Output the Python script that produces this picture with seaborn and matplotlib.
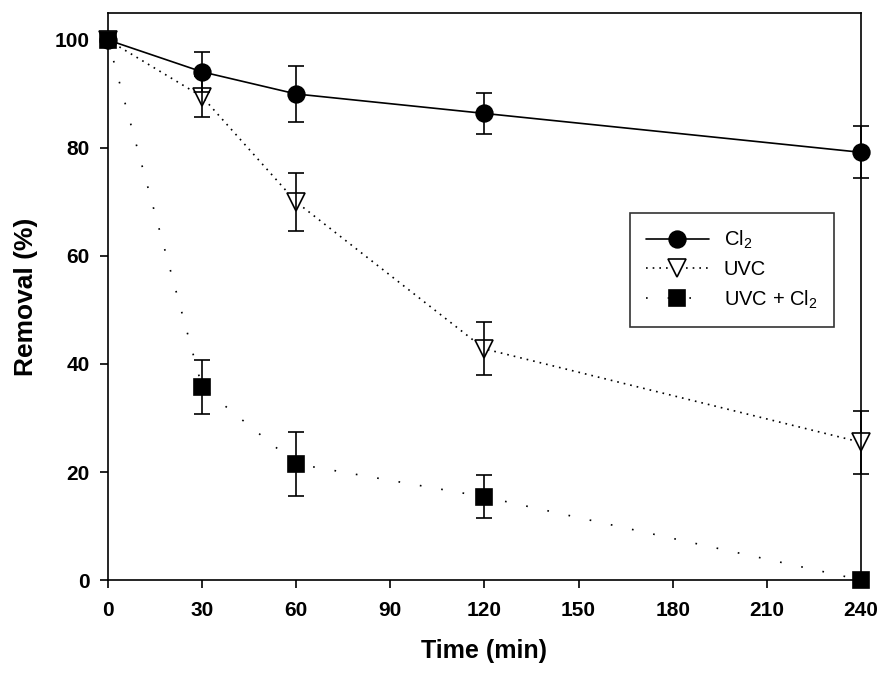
import numpy as np
import pandas as pd
import matplotlib
matplotlib.use("Agg")
import matplotlib.pyplot as plt
import seaborn as sns

# datos
tiempo = [0, 30, 60, 120, 240]
cl2 = [100, 94.1, 90.0, 86.4, 79.2]
cl2_err = [0, 3.7, 5.2, 3.8, 4.8]
uvc = [100, 89.5, 70.0, 42.8, 25.5]
uvc_err = [0, 3.8, 5.4, 4.9, 5.8]
uvc_cl2 = [100, 35.7, 21.5, 15.4, 0]
uvc_cl2_err = [0, 5.0, 6.0, 4.0, 0]

xticks = [0, 30, 60, 90, 120, 150, 180, 210, 240]
yticks = [0, 20, 40, 60, 80, 100]

sns.set_theme(style="ticks")
plt.rcParams['font.family'] = ['Liberation Sans', 'DejaVu Sans']
plt.rcParams['mathtext.fontset'] = 'custom'
plt.rcParams['mathtext.rm'] = 'Liberation Sans'
# todo en negro, no gris de seaborn
plt.rcParams['text.color'] = 'black'
plt.rcParams['axes.labelcolor'] = 'black'
plt.rcParams['xtick.color'] = 'black'
plt.rcParams['ytick.color'] = 'black'

fig = plt.figure(figsize=(8.82, 6.76), dpi=100)
ax = fig.add_axes([0.1224, 0.142, 0.9762 - 0.1224, 0.9808 - 0.142])

df = pd.DataFrame({"t": tiempo, "cl2": cl2, "uvc": uvc, "uvc_cl2": uvc_cl2})

# series: (columna, error, etiqueta, marcador, tamaño, relleno, estilo de linea)
series = [
    ("cl2", cl2_err, "Cl$_2$", "o", 12, "black", "-"),
    ("uvc", uvc_err, "UVC", "v", 13, "white", (0, (1, 3))),
    ("uvc_cl2", uvc_cl2_err, "UVC + Cl$_2$", "s", 11.5, "black", (0, (1, 12))),
]

for col, err, lab, mk, ms, fc, ls in series:
    sns.lineplot(data=df, x="t", y=col, ax=ax, color="black", linewidth=1.2,
                 linestyle=ls, marker=mk, markersize=ms,
                 markerfacecolor=fc, markeredgecolor="black", markeredgewidth=1.2,
                 label=lab, zorder=3, clip_on=False)
    eb = ax.errorbar(df["t"], df[col], yerr=err, fmt="none", ecolor="black",
                     elinewidth=1.2, capsize=6, capthick=1.2, zorder=4)
    for art in eb.lines[1] + eb.lines[2]:
        art.set_clip_on(False)

ax.set_xlim(0, 240)
ax.set_ylim(0, 105)
ax.set_xticks(xticks)
ax.set_yticks(yticks)
ax.tick_params(direction="out", length=6, width=1.2, labelsize=15)
ax.tick_params(axis="x", pad=9)
ax.tick_params(axis="y", pad=7)
for lbl in ax.get_xticklabels() + ax.get_yticklabels():
    lbl.set_fontweight("bold")
for sp in ax.spines.values():
    sp.set_linewidth(1.2)
    sp.set_color("black")

ax.set_xlabel("Time (min)", fontsize=18, fontweight="bold", labelpad=14)
ax.set_ylabel("Removal (%)", fontsize=19, fontweight="bold", labelpad=12)

leg = ax.legend(loc="upper left", bbox_to_anchor=(0.68, 0.665), fontsize=14.5,
                frameon=True, fancybox=False, edgecolor="black", handlelength=3.1,
                borderpad=0.8, labelspacing=0.45, handletextpad=0.75)
leg.get_frame().set_linewidth(1.2)

fig.savefig("out.png", dpi=100)
